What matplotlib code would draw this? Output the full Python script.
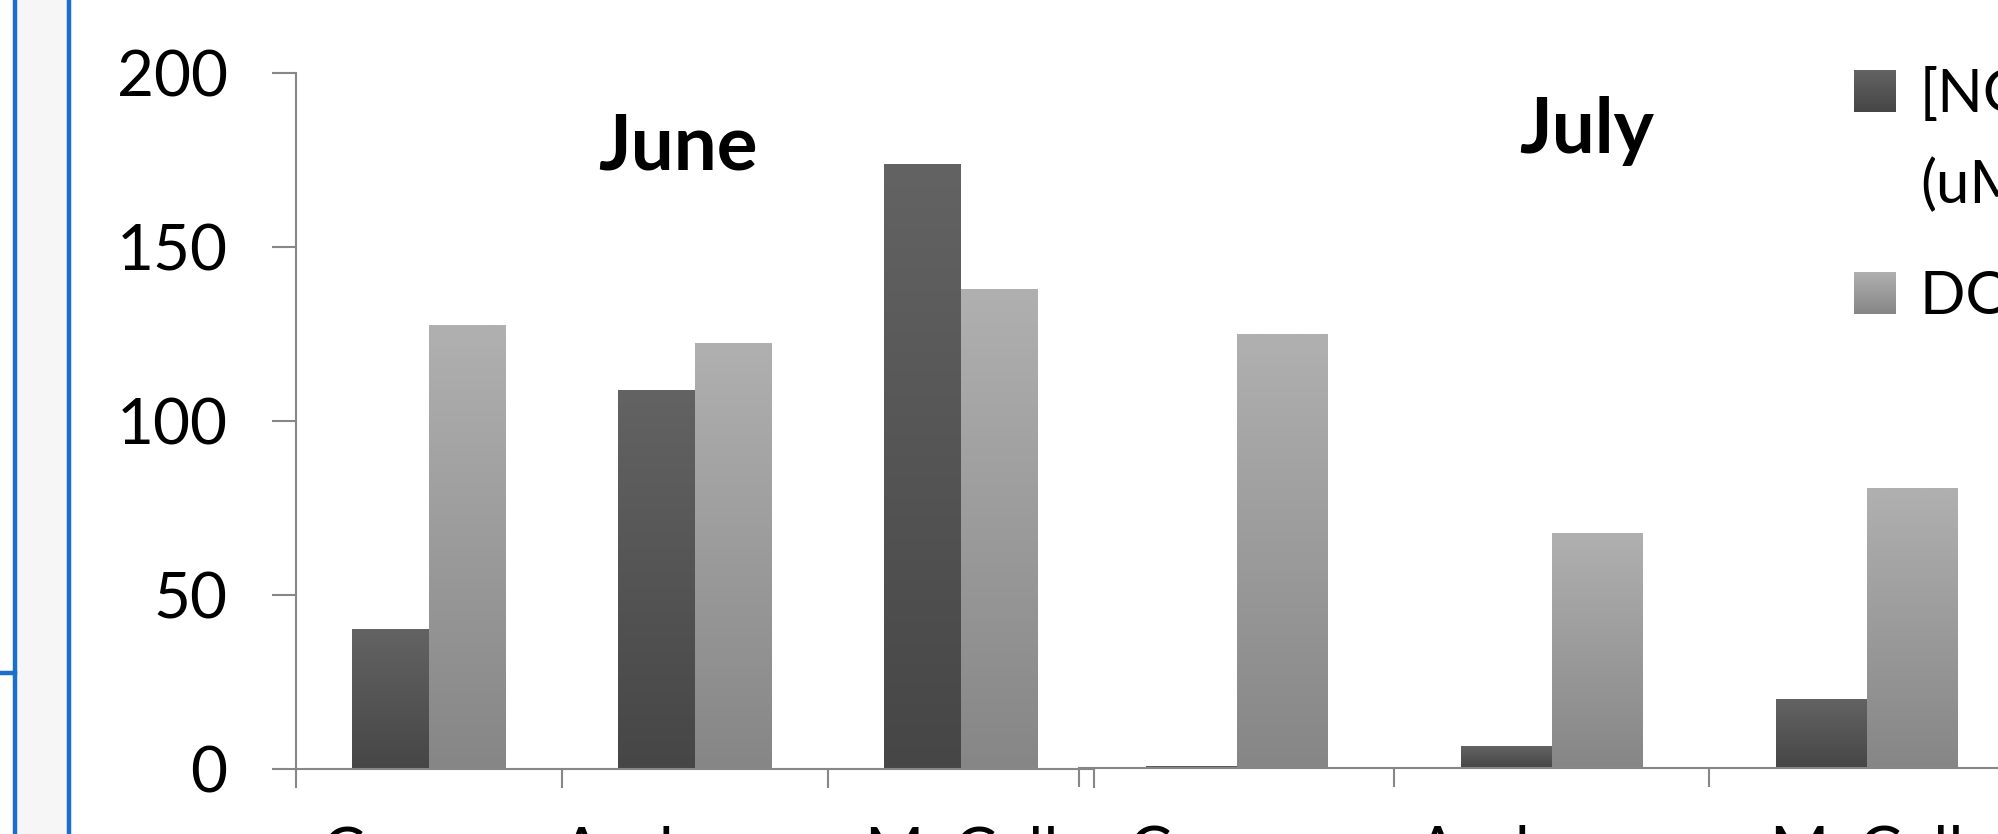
import matplotlib
matplotlib.use("Agg")
import matplotlib.pyplot as plt
import numpy as np
from matplotlib.colors import LinearSegmentedColormap
from matplotlib.patches import Rectangle
from matplotlib.lines import Line2D

plt.rcParams['font.family'] = ['Lato', 'DejaVu Sans']

sites = ["Canyon", "Anderson", "McCall"]
no3_june = [40.2, 108.9, 173.7]
doc_june = [127.3, 122.4, 137.8]
no3_july = [0.5, 6.3, 19.8]
doc_july = [124.7, 67.5, 80.3]
month_titles = ["June", "July"]
legend_lines = [["[NO3-]", "(uM)"], ["DOC (uM)"]]

dark_grad = ("#464646", "#636363")   # bottom, top
light_grad = ("#868686", "#b0b0b0")
axis_grey = "#878787"
bar_w = 0.288


def gradient_bars(ax, bars, colors):
    cmap = LinearSegmentedColormap.from_list("g", list(colors))
    grad = np.linspace(0, 1, 256).reshape(-1, 1)
    for b in bars:
        x0, y0, w, h = b.get_x(), b.get_y(), b.get_width(), b.get_height()
        if h <= 0:
            continue
        ax.imshow(grad, cmap=cmap, origin="lower", aspect="auto",
                  extent=(x0, x0 + w, y0, y0 + h), zorder=2)
        b.set_facecolor("none")


def month_axes(rect, no3, doc, show_y):
    ax = fig.add_axes(rect)
    x = np.arange(len(sites))
    b1 = ax.bar(x - bar_w / 2, no3, bar_w, color=dark_grad[1], zorder=2)
    b2 = ax.bar(x + bar_w / 2, doc, bar_w, color=light_grad[1], zorder=2)
    gradient_bars(ax, b1, dark_grad)
    gradient_bars(ax, b2, light_grad)
    ax.set_xlim(-0.5, len(sites) - 0.5)
    ax.set_ylim(0, 200)
    for s in ["top", "right"]:
        ax.spines[s].set_visible(False)
    ax.spines["bottom"].set_color(axis_grey)
    ax.spines["bottom"].set_linewidth(1.5)
    ax.spines["bottom"].set_zorder(3)
    ax.set_xticks(x, sites)
    ax.set_xticks(np.arange(len(sites) + 1) - 0.5, minor=True)
    ax.tick_params(axis="x", which="major", length=0, pad=41, labelsize=46)
    ax.tick_params(axis="x", which="minor", length=13.7, width=1.5,
                   color=axis_grey)
    if show_y:
        ax.spines["left"].set_color(axis_grey)
        ax.spines["left"].set_linewidth(1.5)
        ax.set_yticks([0, 50, 100, 150, 200])
        ax.tick_params(axis="y", length=17.3, width=1.5, color=axis_grey,
                       pad=32, labelsize=46)
    else:
        ax.spines["left"].set_visible(False)
        ax.set_yticks([])
    return ax


fig = plt.figure(figsize=(19.99, 8.34), dpi=100)
W, H = 1999.0, 834.0

# slide frame on the left edge
fig.patches.append(Rectangle((17 / W, 0), 50 / W, 1, transform=fig.transFigure,
                             facecolor="#f6f6f6", edgecolor="none"))
for xs, ys in [([15, 15], [0, 834]), ([69.5, 69.5], [0, 834]), ([0, 15], [673, 673])]:
    fig.lines.append(Line2D([v / W for v in xs], [1 - v / H for v in ys],
                            transform=fig.transFigure, color="#1b6fc8", lw=3.2))

bottom = (H - 769) / H
height = (769 - 73) / H
ax1 = month_axes([296 / W, bottom, (1094 - 296) / W, height], no3_june, doc_june, True)
ax2 = month_axes([1079 / W, bottom + 1 / H, 945 / W, height], no3_july, doc_july, False)
ax2.patch.set_facecolor("white")

# month titles
fig.text(678 / W, 1 - 170 / H, month_titles[0], fontsize=55, fontweight="bold",
         ha="center", va="baseline")
fig.text(1587 / W, 1 - 153 / H, month_titles[1], fontsize=55, fontweight="bold",
         ha="center", va="baseline")

# legend (clipped by the figure edge like the reference)
marker_tops = [70, 272]
for top, lines, grad in zip(marker_tops, legend_lines, [dark_grad, light_grad]):
    mk = fig.add_axes([1854 / W, 1 - (top + 42) / H, 42 / W, 42 / H])
    mk.imshow(np.linspace(0, 1, 64).reshape(-1, 1), origin="lower", aspect="auto",
              cmap=LinearSegmentedColormap.from_list("g", list(grad)))
    mk.axis("off")
    for i, line in enumerate(lines):
        fig.text(1920 / W, 1 - (top + 42 + i * 91) / H, line, fontsize=43,
                 ha="left", va="baseline")

fig.savefig("out.png", dpi=100)
